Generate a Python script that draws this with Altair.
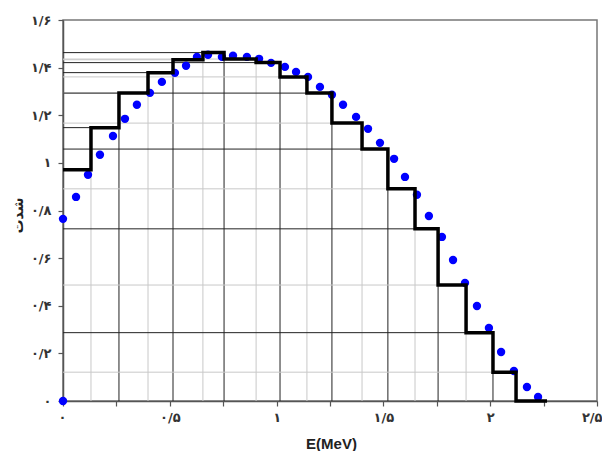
import altair as alt
import pandas as pd

# ---- data ----
step_edges = [0.0, 0.131, 0.262, 0.398, 0.515, 0.655, 0.754, 0.904, 1.016, 1.142,
              1.259, 1.400, 1.521, 1.648, 1.756, 1.887, 2.013, 2.121, 2.266]
step_values = [0.971, 1.148, 1.293, 1.379, 1.433, 1.463, 1.436, 1.421, 1.361,
               1.293, 1.167, 1.058, 0.891, 0.723, 0.487, 0.287, 0.121, 0.0]

dot_x = [0.0, 0.0, 0.061, 0.117, 0.173, 0.234, 0.290, 0.346, 0.407, 0.463, 0.524,
         0.576, 0.627, 0.679, 0.744, 0.796, 0.861, 0.918, 0.974, 1.039, 1.091,
         1.147, 1.203, 1.259, 1.311, 1.372, 1.428, 1.484, 1.550, 1.601, 1.657,
         1.713, 1.774, 1.826, 1.882, 1.938, 1.994, 2.051, 2.111, 2.172, 2.224]
dot_y = [0.0, 0.765, 0.857, 0.950, 1.034, 1.113, 1.185, 1.244, 1.294, 1.340, 1.378,
         1.408, 1.445, 1.454, 1.445, 1.450, 1.445, 1.437, 1.420, 1.403, 1.382,
         1.361, 1.319, 1.286, 1.244, 1.193, 1.143, 1.084, 1.017, 0.941, 0.866,
         0.777, 0.689, 0.592, 0.496, 0.399, 0.307, 0.206, 0.126, 0.059, 0.017]

x_tick_values = [0, 0.25, 0.5, 0.75, 1, 1.25, 1.5, 1.75, 2, 2.25, 2.5]
x_tick_labels = ["۰", "", "۰/۵", "", "۱", "", "۱/۵", "", "۲", "", "۲/۵"]
y_tick_values = [0, 0.1, 0.2, 0.3, 0.4, 0.5, 0.6, 0.7, 0.8, 0.9, 1.0,
                 1.1, 1.2, 1.3, 1.4, 1.5, 1.6]
y_tick_labels = ["۰", "", "۰/۲", "", "۰/۴", "", "۰/۶", "", "۰/۸", "", "۱",
                 "", "۱/۲", "", "۱/۴", "", "۱/۶"]

x_title = "E(MeV)"
y_title = "شدت"

# ---- tables ----
step_df = pd.DataFrame({"x": step_edges, "y": step_values + [step_values[-1]]})
dots_df = pd.DataFrame({"x": dot_x, "y": dot_y})

vrows = []
for k in range(1, len(step_values)):
    vrows.append({"x": step_edges[k], "y": 0.0,
                  "y2": max(step_values[k - 1], step_values[k]),
                  "shade": "dark" if k % 2 == 0 else "light"})
hrows = []
for i, v in enumerate(step_values[:-1]):
    hrows.append({"y": v, "x": 0.0, "x2": step_edges[i + 1],
                  "shade": "dark" if i % 2 == 1 else "light"})
vdf = pd.DataFrame(vrows).sort_values("shade", ascending=False)
hdf = pd.DataFrame(hrows).sort_values("shade", ascending=False)


def label_expr(values, labels, fmt):
    expr = "''"
    for v, lab in reversed(list(zip(values, labels))):
        key = format(v, fmt)
        expr = f"format(datum.value, '{fmt}') == '{key}' ? '{lab}' : ({expr})"
    return expr


xscale = alt.Scale(domain=[0, 2.5], nice=False, zero=False)
yscale = alt.Scale(domain=[0, 1.6], nice=False, zero=False)

xaxis = alt.Axis(values=x_tick_values, labelExpr=label_expr(x_tick_values, x_tick_labels, ".2f"),
                 title=x_title, grid=False, labelFlush=True, labelFlushOffset=5,
                 labelOverlap=False,
                 labelFont="DejaVu Sans", labelFontSize=13, labelFontWeight="bold",
                 labelColor="#333", labelPadding=5,
                 titleFont="Liberation Sans", titleFontSize=15, titleFontWeight="bold",
                 titleColor="#222", titleX=268, titleY=42, titleBaseline="middle",
                 titleAlign="center")
yaxis = alt.Axis(values=y_tick_values, labelExpr=label_expr(y_tick_values, y_tick_labels, ".1f"),
                 title=y_title, grid=False, labelFlush=False, labelOverlap=False,
                 labelFont="DejaVu Sans", labelFontSize=13, labelFontWeight="bold",
                 labelColor="#333", labelPadding=7,
                 titleFont="DejaVu Sans", titleFontSize=14, titleFontWeight="bold",
                 titleColor="#222", titleX=-45, titleY=195, titleAngle=-90,
                 titleBaseline="middle", titleAlign="center")

shade_color = alt.Color("shade:N", scale=alt.Scale(domain=["light", "dark"],
                                                   range=["#c8c8c8", "#222222"]), legend=None)

vlines = alt.Chart(vdf).mark_rule(strokeWidth=1).encode(
    x=alt.X("x:Q", scale=xscale, axis=xaxis),
    y=alt.Y("y:Q", scale=yscale, axis=yaxis),
    y2="y2:Q",
    color=shade_color,
)
hlines = alt.Chart(hdf).mark_rule(strokeWidth=1).encode(
    x=alt.X("x:Q", scale=xscale),
    x2="x2:Q",
    y=alt.Y("y:Q", scale=yscale),
    color=shade_color,
)
dots = alt.Chart(dots_df).mark_circle(size=70, color="#0000ff", opacity=1).encode(
    x=alt.X("x:Q", scale=xscale),
    y=alt.Y("y:Q", scale=yscale),
)
steps = alt.Chart(step_df).mark_line(interpolate="step-after", color="black",
                                     strokeWidth=3.5).encode(
    x=alt.X("x:Q", scale=xscale),
    y=alt.Y("y:Q", scale=yscale),
)

chart = alt.layer(vlines, hlines, dots, steps).properties(
    width=534, height=381,
    padding={"left": 55, "top": 12, "right": 5, "bottom": 50},
    autosize=alt.AutoSizeParams(type="none"),
).configure_view(
    stroke="#777777", strokeWidth=1.5
).configure_axis(
    domainColor="#555555", domainWidth=1.5, tickColor="#555555", tickSize=5, tickWidth=1.2
)

chart.save("out.html", embed_options={"renderer": "svg", "actions": False})
